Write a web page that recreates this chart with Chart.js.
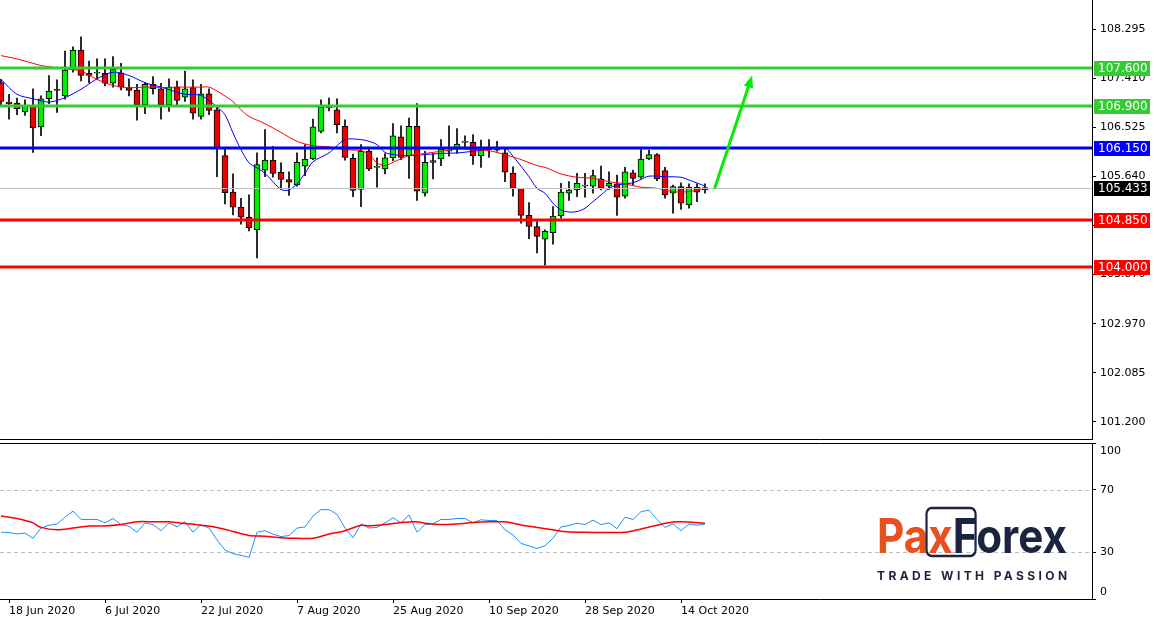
<!DOCTYPE html>
<html>
<head>
<meta charset="utf-8">
<script src="https://cdn.jsdelivr.net/npm/chart.js@4.4.1/dist/chart.umd.min.js"></script>
<style>
  html, body { margin: 0; padding: 0; background: #fff; }
  #wrap { position: relative; width: 1154px; height: 620px; }
  #c-main { position: absolute; left: 0; top: 0; }
  #c-rsi  { position: absolute; left: 0; top: 440px; }
</style>
</head>
<body>
<div id="wrap">
  <canvas id="c-main" width="1154" height="440"></canvas>
  <canvas id="c-rsi" width="1154" height="180"></canvas>
</div>
<script>
/* ── Data (index k = trading day, k=1 is 18 Jun 2020, k=88 is 19 Oct 2020) ── */
const opens  = [107.33,106.98,106.96,106.80,106.90,106.53,107.04,107.20,107.09,107.56,107.92,107.50,107.50,107.50,107.32,107.51,107.24,107.19,106.93,107.30,107.22,106.93,107.25,107.07,107.24,106.72,107.13,106.84,106.01,105.35,105.08,104.90,104.67,105.75,105.93,105.71,105.58,105.48,105.82,105.95,106.45,106.88,106.84,106.54,105.96,105.40,106.09,105.80,105.77,105.97,106.35,106.01,106.54,105.33,105.89,105.95,106.09,106.13,106.25,106.25,106.01,106.12,106.12,106.06,105.69,105.42,104.93,104.73,104.50,104.62,104.92,105.33,105.39,105.46,105.46,105.59,105.46,105.50,105.28,105.70,105.62,105.95,106.03,105.74,105.33,105.45,105.12,105.44,105.39];
const highs  = [107.39,107.12,107.05,107.02,107.22,107.09,107.46,107.38,107.90,107.98,108.16,107.72,107.76,107.76,107.80,107.68,107.40,107.30,107.33,107.44,107.32,107.40,107.36,107.54,107.38,107.30,107.22,106.90,106.15,105.68,105.24,105.30,106.06,106.48,106.18,105.88,105.72,106.06,106.21,106.67,107.02,107.05,107.04,106.66,106.04,106.21,106.15,105.97,106.05,106.59,106.55,106.69,106.95,106.09,106.05,106.30,106.55,106.50,106.37,106.39,106.29,106.30,106.27,106.15,105.81,105.42,105.16,104.82,104.67,105.09,105.51,105.54,105.69,105.69,105.75,105.82,105.72,105.66,105.80,105.75,106.12,106.11,106.05,105.80,105.48,105.52,105.50,105.50,105.50];
const lows   = [106.93,106.67,106.75,106.74,106.07,106.37,106.95,106.79,107.03,107.52,107.36,107.33,107.39,107.27,107.25,107.20,107.09,106.65,106.77,107.12,106.67,106.81,106.93,106.99,106.67,106.67,106.75,105.63,105.14,104.94,104.77,104.65,104.16,105.63,105.62,105.40,105.29,105.46,105.65,105.94,106.42,106.82,106.42,105.93,105.27,105.09,105.74,105.44,105.68,105.92,105.94,105.60,105.20,105.28,105.59,105.83,106.00,106.05,106.13,105.85,105.80,105.98,106.09,105.54,105.28,104.79,104.51,104.25,104.03,104.41,104.88,105.20,105.27,105.26,105.33,105.39,105.40,104.93,105.24,105.48,105.60,105.94,105.56,105.24,104.97,105.04,105.06,105.18,105.33];
const closes = [106.99,106.95,106.86,106.90,106.51,107.04,107.18,107.19,107.56,107.92,107.46,107.46,107.50,107.32,107.57,107.25,107.19,106.93,107.30,107.22,106.93,107.25,107.01,107.22,106.78,107.13,106.83,106.15,105.34,105.08,104.90,104.71,105.85,105.93,105.69,105.58,105.53,105.89,105.95,106.53,106.89,106.90,106.57,105.98,105.38,106.09,105.77,105.80,105.97,106.37,105.98,106.54,105.37,105.89,105.92,106.13,106.09,106.22,106.25,106.01,106.11,106.12,106.11,105.71,105.42,104.93,104.73,104.55,104.64,104.92,105.35,105.39,105.51,105.47,105.65,105.42,105.51,105.26,105.72,105.60,105.95,106.03,105.59,105.30,105.45,105.15,105.44,105.35,105.433];

/* moving averages, read at selected days */
const fastMaDays = [0,2,4,6,8,10,12,14,16,18,20,22,23,25,27,28,29,30,31,32,33,35,36,37,38,39,41,43,45,46,47,48,49,51,53,55,57,59,61,63,64,65,66,67,68,69,70,71,72,73,74,75,76,77,78,79,80,81,83,85,86,88];
const fastMa     = [107.39,107.12,107.04,106.98,107.06,107.21,107.40,107.52,107.46,107.33,107.25,107.16,107.12,107.10,106.89,106.75,106.42,106.12,105.88,105.79,105.69,105.40,105.39,105.50,105.69,105.90,106.06,106.30,106.30,106.27,106.21,106.07,106.03,106.01,106.03,106.05,106.06,106.09,106.13,106.15,106.00,105.82,105.63,105.42,105.33,105.15,105.03,104.99,105.00,105.06,105.18,105.30,105.42,105.48,105.50,105.52,105.58,105.64,105.63,105.62,105.57,105.46];
const slowMaDays = [0,2,4,5,8,10,12,14,16,18,20,22,23,25,26,27,28,29,30,31,33,35,37,39,41,43,45,46,47,48,49,51,53,55,57,59,61,63,65,67,68,70,72,74,76,78,80,82,84,86,88];
const slowMa     = [107.82,107.76,107.68,107.64,107.58,107.54,107.39,107.28,107.24,107.25,107.24,107.25,107.25,107.25,107.25,107.18,107.09,106.99,106.84,106.72,106.59,106.43,106.27,106.19,106.17,106.12,106.10,106.03,105.88,105.83,105.89,106.01,106.05,106.09,106.13,106.12,106.10,106.03,105.94,105.83,105.80,105.68,105.62,105.60,105.54,105.50,105.44,105.42,105.36,105.36,105.42];

/* oscillator panel */
const rsi = [42.8,42.6,41.7,42.2,38.9,45.5,47.3,48.1,52.5,56.4,51.0,51.0,51.0,48.8,51.6,47.7,46.6,42.8,48.8,47.7,43.8,48.8,46.2,49.5,42.8,47.7,45.5,37.9,31.3,29.1,28.0,26.7,42.8,43.8,41.6,40.0,40.7,45.5,46.2,53.2,57.3,57.3,54.3,45.5,39.3,48.1,45.5,45.9,48.8,52.1,48.8,53.9,42.8,47.7,48.1,51.0,51.0,51.6,51.6,48.8,50.8,50.3,50.3,44.4,41.1,35.7,34.0,32.4,34.2,38.9,46.2,47.1,48.6,47.7,50.6,47.7,48.8,45.1,52.5,51.0,56.0,56.9,51.0,45.9,48.1,43.8,48.1,47.3,48.1];
const rsiMaDays = [0,2,4,5,7,9,11,13,15,17,19,21,23,25,27,29,31,33,35,37,39,41,43,45,46,48,50,52,53,55,57,59,61,63,64,66,68,70,72,78,80,82,84,85,88];
const rsiMa     = [53.2,51.6,48.8,45.9,44.4,45.5,46.8,46.8,47.7,49.5,49.5,49.5,48.4,47.3,45.9,43.3,40.7,40.2,39.3,38.9,38.9,41.6,43.8,47.3,46.8,47.7,49.0,49.5,48.6,47.7,48.1,49.0,49.5,49.5,48.6,46.6,45.1,43.5,42.8,42.8,44.9,47.3,49.3,49.5,48.6];

/* axes */
const priceTicks = [108.295, 107.410, 106.525, 105.640, 104.755, 103.870, 102.970, 102.085, 101.200];
const dateTickDays   = [1, 13, 25, 37, 49, 61, 73, 85];
const dateTickLabels = ["18 Jun 2020", "6 Jul 2020", "22 Jul 2020", "7 Aug 2020", "25 Aug 2020", "10 Sep 2020", "28 Sep 2020", "14 Oct 2020"];
const rsiTicks = [0, 30, 70, 100];

/* support / resistance levels */
const levelValues = [107.600, 106.900, 106.150, 104.850, 104.000];
const levelColors = ["#33cc33", "#33cc33", "#0000ff", "#ff0000", "#ff0000"];
const lastPrice   = 105.433;
const arrowFrom   = [89.25, 105.44];
const arrowTo     = [93.9, 107.46];

/* ── Helpers ── */
const FONT = "DejaVu Sans";
const X_MIN = -0.125, X_MAX = 136.375;

function pts(days, vals) {
  return days.map((d, i) => ({ x: d, y: vals[i] }));
}

function fixWidth(w) {
  return scale => { scale.width = w; scale.paddingTop = 0; scale.paddingBottom = 0; };
}

const candleColors = opens.map((o, i) => closes[i] >= o ? "#00ee00" : "#ee0000");

/* ── Main chart plugins ── */
const levelsPlugin = {
  id: "levels",
  afterDatasetsDraw(chart) {
    const { ctx, chartArea: a, scales: { x, y } } = chart;
    ctx.save();
    // current price line
    const yl = Math.round(y.getPixelForValue(lastPrice)) + 0.5;
    ctx.strokeStyle = "#c0c0c0"; ctx.lineWidth = 1;
    ctx.beginPath(); ctx.moveTo(a.left, yl); ctx.lineTo(a.right, yl); ctx.stroke();
    levelValues.forEach((v, i) => {
      const py = Math.round(y.getPixelForValue(v));
      ctx.strokeStyle = levelColors[i]; ctx.lineWidth = 3;
      ctx.beginPath(); ctx.moveTo(a.left, py); ctx.lineTo(a.right, py); ctx.stroke();
    });
    // arrow
    const x1 = x.getPixelForValue(arrowFrom[0]), y1 = y.getPixelForValue(arrowFrom[1]);
    const x2 = x.getPixelForValue(arrowTo[0]),   y2 = y.getPixelForValue(arrowTo[1]);
    const ang = Math.atan2(y2 - y1, x2 - x1);
    ctx.strokeStyle = "#00ee00"; ctx.fillStyle = "#00ee00"; ctx.lineWidth = 3; ctx.lineCap = "round";
    ctx.beginPath(); ctx.moveTo(x1, y1);
    ctx.lineTo(x2 - 8 * Math.cos(ang), y2 - 8 * Math.sin(ang)); ctx.stroke();
    ctx.beginPath();
    ctx.moveTo(x2, y2);
    ctx.lineTo(x2 - 13 * Math.cos(ang - 0.38), y2 - 13 * Math.sin(ang - 0.38));
    ctx.lineTo(x2 - 13 * Math.cos(ang + 0.38), y2 - 13 * Math.sin(ang + 0.38));
    ctx.closePath(); ctx.fill();
    ctx.restore();
  },
  afterDraw(chart) {
    const { ctx, chartArea: a, scales: { y } } = chart;
    ctx.save();
    ctx.font = "12px " + FONT;
    ctx.textBaseline = "middle";
    const box = (v, bg) => {
      const py = Math.round(y.getPixelForValue(v));
      ctx.fillStyle = bg;
      ctx.fillRect(a.right + 2, py - 7, 56, 15);
      ctx.fillStyle = "#fff";
      ctx.fillText(v.toFixed(3), a.right + 6, py + 1);
    };
    levelValues.forEach((v, i) => box(v, levelColors[i]));
    box(lastPrice, "#000");
    // separator at bottom of price panel
    ctx.strokeStyle = "#000"; ctx.lineWidth = 1;
    ctx.beginPath(); ctx.moveTo(0, a.bottom - 0.5); ctx.lineTo(a.right + 0.5, a.bottom - 0.5); ctx.stroke();
    ctx.restore();
  },
};

new Chart(document.getElementById("c-main"), {
  type: "bar",
  data: {
    datasets: [
      {
        type: "line", label: "slow", data: pts(slowMaDays, slowMa),
        borderColor: "#ff0000", borderWidth: 1, pointRadius: 0, tension: 0.3, order: 0,
      },
      {
        type: "line", label: "fast", data: pts(fastMaDays, fastMa),
        borderColor: "#0000ff", borderWidth: 1, pointRadius: 0, tension: 0.3, order: 0,
      },
      {
        label: "body", data: opens.map((o, i) => ({ x: i, y: [o, closes[i]] })),
        backgroundColor: candleColors, borderColor: "#000", borderWidth: 1,
        borderSkipped: false, barThickness: 6, minBarLength: 1, grouped: false, order: 1,
      },
      {
        label: "wick", data: highs.map((h, i) => ({ x: i, y: [lows[i], h] })),
        backgroundColor: "#000", barThickness: 1, grouped: false, order: 2,
      },
    ],
  },
  options: {
    responsive: false, animation: false,
    layout: { padding: 0 },
    plugins: { legend: { display: false }, tooltip: { enabled: false } },
    scales: {
      x: { type: "linear", min: X_MIN, max: X_MAX, offset: false, display: false },
      y: {
        position: "right", min: 100.869, max: 108.825,
        afterFit: fixWidth(62),
        afterBuildTicks: s => { s.ticks = priceTicks.map(v => ({ value: v })); },
        ticks: { color: "#000", font: { family: FONT, size: 11 }, padding: 4, callback: v => v.toFixed(3) },
        grid: { drawOnChartArea: false, drawTicks: true, tickLength: 4, color: "#000" },
        border: { display: true, color: "#000" },
      },
    },
  },
  plugins: [levelsPlugin],
});

/* ── Oscillator panel ── */
const rsiPlugin = {
  id: "rsiDeco",
  beforeDatasetsDraw(chart) {
    const { ctx, chartArea: a, scales: { y } } = chart;
    ctx.save();
    ctx.strokeStyle = "#c0c0c0"; ctx.lineWidth = 1; ctx.setLineDash([4, 3]);
    [30, 70].forEach(v => {
      const py = Math.round(y.getPixelForValue(v)) + 0.5;
      ctx.beginPath(); ctx.moveTo(a.left, py); ctx.lineTo(a.right, py); ctx.stroke();
    });
    ctx.setLineDash([]);
    // logo
    ctx.textBaseline = "alphabetic";
    ctx.font = "bold 48px Inter";
    const parts = [["Pa", "#e8501e"], ["x", "#e8501e"], ["Forex", "#1a2340"]];
    const total = parts.reduce((s, p) => s + ctx.measureText(p[0]).width, 0);
    const sx = 190 / total;
    ctx.translate(877, 113);
    ctx.scale(sx, 1);
    let cx = 0;
    parts.forEach(([t, c], i) => {
      const w = ctx.measureText(t).width;
      if (i === 1) {
        ctx.strokeStyle = "#1a2340"; ctx.lineWidth = 2.5;
        ctx.beginPath(); ctx.roundRect(cx - 2, -45, w + 28, 48, 6); ctx.stroke();
      }
      ctx.fillStyle = c; ctx.fillText(t, cx, 0);
      cx += w;
    });
    ctx.setTransform(1, 0, 0, 1, 0, 0);
    ctx.fillStyle = "#1a2340";
    ctx.font = "bold 12px Inter";
    ctx.letterSpacing = "3.4px";
    ctx.fillText("TRADE WITH PASSION", 877, 140);
    ctx.restore();
  },
  afterDraw(chart) {
    const { ctx, chartArea: a, scales: { y } } = chart;
    ctx.save();
    ctx.strokeStyle = "#000"; ctx.lineWidth = 1;
    ctx.beginPath();
    ctx.moveTo(0, a.top + 0.5); ctx.lineTo(a.right + 0.5, a.top + 0.5);
    ctx.moveTo(0, a.bottom + 0.5); ctx.lineTo(a.right + 0.5, a.bottom + 0.5);
    ctx.stroke();
    // level labels kept inside the panel, as the terminal does
    ctx.fillStyle = "#000";
    ctx.font = "11px " + FONT;
    ctx.textBaseline = "middle";
    rsiTicks.forEach(v => {
      const py = Math.min(Math.max(y.getPixelForValue(v), a.top + 8), a.bottom - 7);
      ctx.fillText(String(v), a.right + 8, py);
    });
    ctx.restore();
  },
};

new Chart(document.getElementById("c-rsi"), {
  type: "line",
  data: {
    datasets: [
      {
        label: "ma", data: pts(rsiMaDays, rsiMa),
        borderColor: "#ff0000", borderWidth: 1.5, pointRadius: 0, tension: 0.3,
      },
      {
        label: "rsi", data: rsi.map((v, i) => ({ x: i, y: v })),
        borderColor: "#1e90ff", borderWidth: 1, pointRadius: 0,
      },
    ],
  },
  options: {
    responsive: false, animation: false,
    layout: { padding: { top: 3 } },
    plugins: { legend: { display: false }, tooltip: { enabled: false } },
    scales: {
      x: {
        type: "linear", min: X_MIN, max: X_MAX, offset: false,
        afterFit: s => { s.height = 21; s.paddingLeft = 0; s.paddingRight = 0; },
        afterBuildTicks: s => { s.ticks = dateTickDays.map(v => ({ value: v })); },
        ticks: {
          color: "#000", font: { family: FONT, size: 11 }, align: "start", padding: 2,
          maxRotation: 0, autoSkip: false,
          callback: v => dateTickLabels[dateTickDays.indexOf(v)],
        },
        grid: { drawOnChartArea: false, tickLength: 4, color: "#000" },
        border: { display: false },
      },
      y: {
        position: "right", min: 0, max: 100,
        afterFit: fixWidth(62),
        afterBuildTicks: s => { s.ticks = rsiTicks.map(v => ({ value: v })); },
        ticks: { display: false },
        grid: { drawOnChartArea: false, tickLength: 4, color: "#000" },
        border: { display: true, color: "#000" },
      },
    },
  },
  plugins: [rsiPlugin],
});
</script>
</body>
</html>
